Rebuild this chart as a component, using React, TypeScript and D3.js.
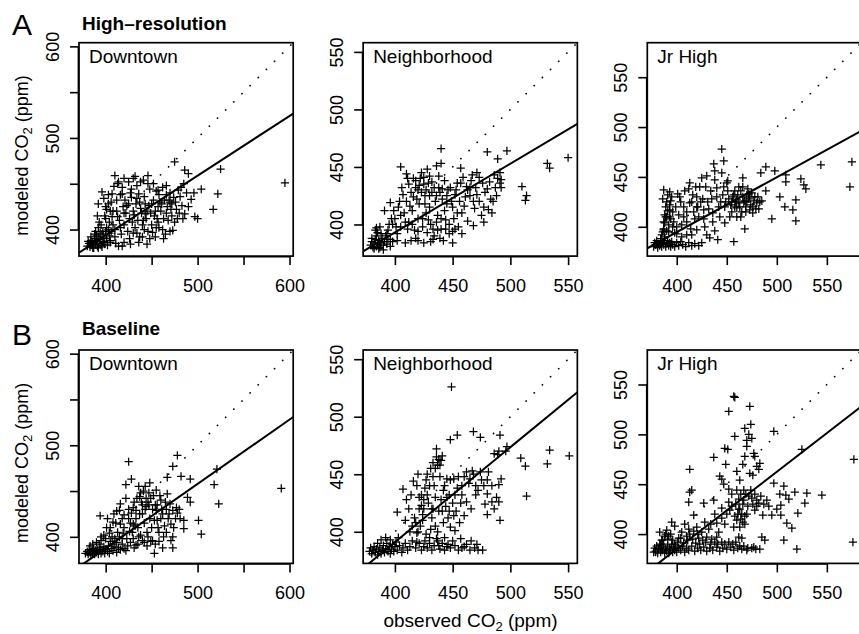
import { useEffect, useRef } from "react";
import { axisBottom, axisLeft, scaleLinear, select, line } from "d3";

const FONT = "'Liberation Sans', Arial, Helvetica, sans-serif";

const sites = ["Downtown", "Neighborhood", "Jr High"];
const rowTitles = ["High\u2013resolution", "Baseline"];
const rowLetters = ["A", "B"];
const siteDomains = [[371, 604], [372.5, 558], [370.6, 584.6]];
const siteTicks = [[400, 450, 500, 550, 600], [400, 450, 500, 550], [400, 450, 500, 550]];
const siteLabels = [[400, 500, 600], [400, 450, 500, 550], [400, 450, 500, 550]];

// [intercept, slope] of the fitted lines
const hrFits = [[132.8, 0.652], [153.8, 0.598], [174.2, 0.551]];
const baseFits = [[106.8, 0.702], [61, 0.825], [75, 0.775]];

// [observed, modeled] ppm
const hrDowntown = [
  [380,382],[382,385],[383,381],[384,388],[385,383],[386,386],[387,380],[388,390],[389,384],[390,387],
  [391,382],[392,392],[393,385],[394,389],[395,383],[396,395],[397,387],[398,391],[399,384],[400,398],
  [381,387],[384,392],[386,380],[388,395],[390,393],[392,380],[394,396],[396,381],[398,386],[401,390],
  [402,383],[404,393],[405,386],[403,400],[406,398],
  [410,459],[414,452],[425,452],[430,456],[441,454],[446,459],[452,450],[466,448],[475,474],[486,465],
  [490,461],[525,466],[504,444],[522,439],[517,422],[493,433],[486,417],[497,414],[500,412],[473,399],
  [475,408],[479,443],[396,441],[407,439],[418,439],[436,439],[457,443],[392,428],[403,428],[425,428],
  [443,428],[461,428],[472,428],[391,415],[407,414],[443,417],[457,408],[454,392],[427,384],[414,382],
  [595,451],
  [398,434],[401,422],[404,408],[408,420],[410,400],[412,432],[415,410],[417,395],[419,425],[420,405],
  [422,418],[424,398],[426,412],[428,435],[430,420],[432,402],[433,428],[435,410],[437,392],[438,423],
  [440,405],[442,436],[444,412],[446,398],[447,426],[449,418],[450,405],[452,432],[454,420],[456,412],
  [458,438],[460,420],[462,400],[464,432],[466,418],[468,410],[470,440],[471,422],[476,430],[480,418],
  [483,426],[470,398],[465,395],[448,390],[436,386],[430,396],[405,388],[410,392],[395,405],[400,412],
  [406,430],[418,446],[434,448],[448,444],[462,446],[488,440],[478,412],[455,402],[445,384],[420,386],
  [412,420],
  [409,447],[420,456],[432,458],[438,452],[416,438],[421,432],[427,440],[434,434],[439,418],[441,410],
  [445,420],[450,428],[453,415],[457,425],[459,430],[463,412],[467,425],[469,432],[472,415],[474,435],
  [477,422],[481,436],[484,412],[490,425],[405,420],[408,405],[413,414],[416,402],[420,418],[423,426],
  [429,408],[431,416],[434,396],[437,430],[442,400],[451,397],[458,402],[463,390],[401,402],[397,398],
  [399,415],[393,408],[404,396],[411,385],[418,382],[426,390],[440,392],[389,398],[392,402],[400,425],
  [403,438],[413,450],[428,444],[446,450],[455,442],[466,438],[470,430],[482,446],[496,440],[485,450],
];

const hrNeighborhood = [
  [379,382],[380,385],[381,380],[382,384],[383,387],[384,381],[385,383],[386,386],[387,380],[388,384],
  [389,388],[390,382],[391,385],[392,390],[393,383],[380,388],[382,379],[384,390],[386,379],[388,392],
  [390,378],[385,393],[394,387],[396,381],[398,385],[383,395],[387,398],
  [440,466],[440,453],[436,451],[405,450],[457,449],[480,463],[489,457],[497,464],[550,458],[532,453],
  [534,449],[510,433],[514,425],[513,421],[492,439],[491,436],[491,445],[480,431],[483,422],[481,413],
  [477,402],[468,399],[471,426],[463,430],[454,436],[467,443],[471,445],[450,394],[450,384],[433,387],
  [428,393],[409,384],[402,386],[396,387],[425,435],[423,445],[412,435],[396,419],[391,412],[407,426],
  [419,422],[439,428],[445,418],[460,416],[454,410],[436,402],[384,397],
  [400,405],[403,415],[405,398],[408,410],[410,420],[412,402],[414,428],[415,412],[417,395],[418,432],
  [420,405],[421,418],[422,440],[424,398],[426,425],[427,410],[429,436],[430,415],[431,400],[432,428],
  [434,390],[435,420],[437,408],[438,432],[440,396],[441,422],[443,412],[444,404],[446,430],[447,392],
  [449,420],[451,405],[452,426],[455,398],[456,420],[458,410],[461,424],[463,403],[465,432],[469,414],
  [473,420],[475,408],[478,428],[485,420],[487,432],[458,392],[442,386],[425,384],[418,388],[414,386],
  [398,400],[394,395],[402,392],[410,444],[416,440],[430,442],[428,448],[420,430],[426,418],
  [404,420],[406,432],[411,440],[413,416],[416,424],[418,438],[421,434],[423,428],[425,441],[427,430],
  [430,425],[432,437],[434,432],[436,425],[438,442],[441,431],[443,438],[445,425],[448,432],[450,415],
  [453,430],[457,436],[459,441],[462,433],[466,438],[470,432],[473,441],[476,436],[482,437],[486,443],
  [489,440],[409,402],[411,396],[415,400],[420,394],[424,405],[429,404],[433,396],[437,395],[440,405],
  [444,396],[447,400],[452,396],[439,388],[431,385],[420,386],[395,400],[397,405],[399,412],[401,398],
  [393,392],[405,408],[465,425],[468,420],[477,415],[488,425],[492,432],[484,410],
];

const hrJrHigh = [
  [377,380],[378,384],[379,382],[380,386],[381,379],[382,383],[383,381],[384,385],[385,380],[386,384],
  [387,382],[388,386],[389,380],[390,383],[391,386],[392,381],[393,384],[394,380],[395,385],[396,382],
  [398,380],[400,384],[402,381],[404,385],[406,382],[409,380],[412,384],[415,381],[418,383],[422,381],
  [425,384],
  [385,392],[387,398],[388,404],[389,410],[390,396],[391,416],[392,402],[393,422],[386,428],[388,390],
  [394,408],[396,400],[395,430],[398,394],
  [445,478],[447,466],[437,463],[438,456],[445,454],[451,446],[466,449],[484,454],[489,460],[498,456],
  [509,452],[509,445],[524,448],[527,442],[529,438],[544,462],[575,465],[573,440],[519,406],[516,417],
  [519,427],[508,420],[503,430],[495,408],[489,436],[468,398],[457,385],[441,387],[433,389],[427,408],
  [387,437],[393,435],[403,430],[413,444],[425,449],[430,451],[440,439],[440,430],[450,444],[460,427],
  [466,430],[475,434],[480,424],[473,417],[460,419],[453,410],[443,410],[436,414],[427,417],[413,424],
  [407,420],[393,417],[390,410],[387,397],[400,393],[420,397],
  [402,412],[405,402],[408,436],[410,415],[414,398],[416,432],[418,408],[421,420],[423,440],[426,428],
  [428,400],[431,425],[434,436],[436,405],[444,425],[446,432],[448,420],[452,428],[455,425],[457,432],
  [458,420],[462,424],[464,436],[467,425],[469,420],[470,432],[472,428],[476,420],[478,430],[482,418],
  [485,426],[465,415],[455,415],[471,438],[462,440],[420,430],[410,392],
  [384,388],[386,395],[387,405],[388,412],[389,420],[390,425],[391,432],[392,395],[393,410],[394,426],
  [396,415],[397,405],[399,420],[400,400],[401,433],[404,425],[407,410],[410,405],[412,438],[415,425],
  [417,415],[419,440],[422,410],[424,425],[429,440],[432,418],[435,428],[438,447],[442,420],[447,440],
  [449,425],[451,436],[454,422],[456,430],[459,425],[461,432],[463,420],[466,440],[468,426],[470,425],
  [473,430],[474,422],[477,426],[479,418],[481,430],[483,425],[460,410],[464,410],[469,415],[476,414],
  [448,404],[438,396],[415,392],[405,390],[430,392],[420,420],[472,433],[458,436],
];

const baseDowntown = [
  [378,382],[380,384],[381,381],[382,386],[383,383],[384,380],[385,385],[386,382],[387,387],[388,381],
  [389,384],[390,383],[391,386],[392,381],[393,385],[394,388],[395,382],[396,386],[397,384],[398,389],
  [399,382],[400,386],[402,384],[403,390],[404,382],[406,387],[408,385],[410,389],[412,383],[414,388],
  [416,386],[418,392],[420,387],[383,390],[386,392],[390,394],[395,396],[400,398],
  [591,453],[521,474],[518,457],[523,436],[501,418],[504,403],[492,438],[489,443],[492,463],[482,466],
  [467,465],[478,489],[473,477],[425,482],[428,463],[422,457],[448,459],[444,442],[437,444],[422,442],
  [455,451],[394,423],[415,429],[433,429],[444,433],[455,429],[473,429],[478,426],[485,418],[485,409],
  [473,400],[471,396],[462,388],[473,388],[453,382],[451,396],[440,396],[433,391],[422,385],
  [402,420],[405,410],[407,400],[409,425],[411,415],[413,405],[416,436],[418,420],[420,410],[423,398],
  [425,430],[427,415],[429,405],[431,438],[433,420],[435,410],[436,400],[438,448],[440,425],[442,415],
  [443,455],[445,405],[446,438],[448,420],[450,410],[452,445],[454,435],[456,418],[458,405],[460,440],
  [462,425],[464,412],[466,430],[468,420],[470,436],[474,410],[476,420],[480,430],[458,395],[445,390],
  [430,398],[418,398],[410,398],[436,455],[447,448],
  [405,395],[408,392],[412,394],[415,400],[419,404],[424,390],[427,394],[431,388],[435,392],[438,402],
  [442,394],[446,400],[449,395],[454,392],[457,410],[460,420],[463,400],[466,405],[469,425],[471,414],
  [477,432],[481,420],[425,420],[428,426],[430,432],[432,412],[434,442],[437,425],[439,438],[441,450],
  [443,430],[447,435],[449,442],[451,430],[453,418],[456,435],[459,445],[461,430],[465,438],[467,447],
  [420,424],[416,414],[412,428],[408,416],[404,404],[401,410],[398,402],[395,400],[393,392],[426,406],
  [430,414],[440,435],
];

const baseNeighborhood = [
  [378,383],[379,386],[380,381],[381,384],[382,387],[383,382],[384,385],[385,380],[386,383],[387,386],
  [388,381],[389,384],[390,388],[391,382],[392,385],[393,390],[394,383],[395,387],[396,381],[397,385],
  [398,389],[399,383],[400,387],[401,391],[402,384],[404,388],[406,382],[407,386],[409,390],[411,384],
  [413,387],[385,390],[388,393],[392,395],[396,393],[403,395],
  [449,526],[448,480],[454,484],[468,487],[474,482],[491,484],[497,474],[486,468],[489,467],[509,464],
  [513,457],[532,459],[534,471],[551,466],[514,431],[492,446],[490,441],[490,426],[486,420],[491,410],
  [480,415],[480,433],[481,452],[467,453],[470,440],[460,448],[445,446],[451,446],[438,463],[441,466],
  [436,472],[428,450],[420,450],[416,444],[407,437],[410,428],[402,417],[409,410],[423,423],[425,428],
  [433,420],[442,408],[451,414],[457,425],[460,414],[452,401],[457,394],[431,402],[419,399],[415,405],
  [436,394],[445,387],[460,387],[471,389],[476,384],[425,387],[419,391],
  [412,420],[414,432],[417,412],[419,440],[421,430],[422,405],[424,415],[426,438],[427,398],[429,425],
  [431,455],[432,412],[434,440],[435,430],[437,400],[438,418],[439,458],[440,428],[442,436],[443,395],
  [444,422],[446,412],[447,432],[448,404],[450,425],[453,418],[454,438],[456,408],[458,432],[462,426],
  [464,442],[466,420],[472,436],[475,445],[478,424],[484,440],[438,388],[430,390],[450,392],[466,392],
  [433,460],[436,465],
  [415,392],[418,386],[421,390],[423,384],[426,392],[428,386],[430,395],[432,384],[434,388],[437,392],
  [439,385],[441,390],[443,384],[446,389],[448,386],[452,388],[455,384],[458,386],[462,389],[465,384],
  [469,386],[472,384],[421,420],[423,432],[425,420],[427,445],[428,432],[430,440],[432,420],[433,448],
  [435,455],[437,458],[439,448],[440,462],[443,440],[445,430],[448,445],[452,432],[455,448],[458,440],
  [462,452],[465,446],[468,450],[470,432],[474,452],[477,440],[480,445],[484,426],[488,430],[496,470],
  [490,470],[418,408],[420,400],[424,410],[435,405],[441,418],[447,418],[413,400],
];

const baseJrHigh = [
  [377,382],[378,386],[379,383],[380,388],[381,381],[382,385],[383,389],[384,382],[385,386],[386,384],
  [387,390],[388,381],[389,385],[390,383],[391,388],[392,381],[393,386],[394,384],[395,390],[396,382],
  [397,386],[398,384],[399,388],[400,382],[402,386],[404,384],[406,388],[408,382],[410,386],[412,384],
  [415,388],[418,383],[421,386],[424,384],[427,387],[430,383],[433,386],[436,384],[440,387],[443,383],
  [446,386],[450,385],[454,387],[457,384],[461,386],[465,385],[385,394],[388,398],[391,395],[394,400],
  [457,538],[458,537],[452,523],[473,528],[468,506],[474,510],[470,494],[475,496],[458,498],[497,503],
  [448,486],[451,485],[437,477],[413,465],[415,444],[413,442],[412,432],[427,431],[437,434],[443,458],
  [447,450],[460,463],[463,454],[468,478],[477,481],[480,468],[483,471],[473,461],[476,459],[460,444],
  [467,444],[475,436],[480,434],[482,431],[490,434],[478,424],[486,419],[495,419],[504,419],[497,451],
  [507,448],[509,439],[518,442],[530,441],[528,431],[545,439],[504,429],[521,421],[510,411],[515,406],
  [507,394],[488,394],[485,397],[520,385],[576,392],[577,475],[525,485],[470,384],[477,387],[465,396],
  [462,397],[463,407],[457,407],[460,414],[453,424],[445,416],[440,411],[440,397],[430,397],[420,407],
  [417,419],[395,412],[390,404],[383,402],
  [398,408],[402,396],[405,402],[408,410],[410,398],[412,405],[422,396],[425,402],[428,412],[432,405],
  [435,395],[438,420],[442,402],[445,426],[448,410],[450,420],[452,432],[455,428],[458,418],[462,425],
  [464,415],[466,430],[468,410],[470,420],[472,438],[455,440],[452,445],
  [384,390],[386,394],[389,400],[392,398],[396,394],[398,390],[401,392],[404,396],[407,391],[411,394],
  [413,400],[416,395],[419,391],[423,390],[426,394],[429,392],[434,390],[438,392],[441,390],[445,392],
  [448,390],[452,392],[456,390],[459,392],[463,388],[467,388],[471,386],[475,386],[479,385],[483,385],
  [459,430],[461,420],[462,435],[463,425],[464,440],[465,420],[466,412],[467,434],[468,418],[469,440],
  [471,428],[474,444],[476,430],[478,440],[480,428],[484,438],[487,430],[492,428],[500,425],[503,440],
  [512,435],[445,455],[449,470],[466,470],[470,488],[472,500],[478,478],[482,465],[421,400],[417,403],
  [434,410],
];

const rows = [
  { data: [hrDowntown, hrNeighborhood, hrJrHigh], fits: hrFits },
  { data: [baseDowntown, baseNeighborhood, baseJrHigh], fits: baseFits },
];

const boxLeft = 79;
const boxTop = 42.7;
const colStep = 284.15;
const rowStep = 307.3;
const boxW = 214.2;
const boxH = 213.4;
const arm = 4.1;
const plus = `M${-arm},0H${arm}M0,${-arm}V${arm}`;

function AxisBottom({ scale, ticks, labels, transform }) {
  const ref = useRef(null);

  useEffect(() => {
    if (!ref.current) return;
    const g = select(ref.current);
    g.selectAll("*").remove();
    g.call(
      axisBottom(scale)
        .tickValues(ticks)
        .tickSize(9)
        .tickFormat((d) => (labels.includes(d) ? String(d) : ""))
    );
    g.select(".domain").remove();
    g.selectAll(".tick line").attr("stroke", "#000").attr("stroke-width", 1.6);
    g.selectAll(".tick text")
      .attr("y", 36)
      .attr("dy", 0)
      .attr("fill", "#000")
      .attr("font-size", 18)
      .attr("font-family", FONT);
    g.append("line")
      .attr("x1", scale(ticks[0]))
      .attr("x2", scale(ticks[ticks.length - 1]))
      .attr("y1", 0.6)
      .attr("y2", 0.6)
      .attr("stroke", "#000")
      .attr("stroke-width", 1.6);
  }, [scale, ticks, labels]);

  return <g ref={ref} transform={transform} />;
}

function AxisLeft({ scale, ticks, labels, transform }) {
  const ref = useRef(null);

  useEffect(() => {
    if (!ref.current) return;
    const g = select(ref.current);
    g.selectAll("*").remove();
    g.call(
      axisLeft(scale)
        .tickValues(ticks)
        .tickSize(9)
        .tickFormat((d) => (labels.includes(d) ? String(d) : ""))
    );
    g.select(".domain").remove();
    g.selectAll(".tick line").attr("stroke", "#000").attr("stroke-width", 1.6);
    // R style: labels parallel to the axis
    g.selectAll(".tick text")
      .attr("transform", "rotate(-90)")
      .attr("x", 0)
      .attr("y", -20)
      .attr("dy", 0)
      .attr("text-anchor", "middle")
      .attr("fill", "#000")
      .attr("font-size", 18)
      .attr("font-family", FONT);
    g.append("line")
      .attr("y1", scale(ticks[0]))
      .attr("y2", scale(ticks[ticks.length - 1]))
      .attr("x1", -0.6)
      .attr("x2", -0.6)
      .attr("stroke", "#000")
      .attr("stroke-width", 1.6);
  }, [scale, ticks, labels]);

  return <g ref={ref} transform={transform} />;
}

function Panel({ row, col, points, fit }) {
  const x0 = boxLeft + col * colStep;
  const y0 = boxTop + row * rowStep;
  const domain = siteDomains[col];
  const scaleX = scaleLinear().domain(domain).range([x0, x0 + boxW]);
  const scaleY = scaleLinear().domain(domain).range([y0 + boxH, y0]);
  const path = line()
    .x((d) => scaleX(d[0]))
    .y((d) => scaleY(d[1]));
  const [a, b] = fit;
  const fitLine = path([
    [domain[0], a + b * domain[0]],
    [domain[1], a + b * domain[1]],
  ]);
  const oneToOne = path([
    [domain[0], domain[0]],
    [domain[1], domain[1]],
  ]);
  const clipId = `clip-${row}-${col}`;

  return (
    <g>
      <clipPath id={clipId}>
        <rect x={x0} y={y0} width={boxW} height={boxH} />
      </clipPath>
      <g clipPath={`url(#${clipId})`}>
        <path
          d={oneToOne}
          fill="none"
          stroke="#000"
          strokeWidth={1.7}
          strokeLinecap="round"
          strokeDasharray="0.1 11.4"
        />
        <path d={fitLine} fill="none" stroke="#000" strokeWidth={2} />
      </g>
      {points.map(([o, m], i) => (
        <path
          key={i}
          d={plus}
          transform={`translate(${scaleX(o)},${scaleY(m)})`}
          fill="none"
          stroke="#000"
          strokeWidth={1.25}
        />
      ))}
      <rect
        x={x0}
        y={y0}
        width={boxW}
        height={boxH}
        fill="none"
        stroke="#000"
        strokeWidth={1.7}
      />
      <AxisBottom
        scale={scaleX}
        ticks={siteTicks[col]}
        labels={siteLabels[col]}
        transform={`translate(0, ${y0 + boxH})`}
      />
      <AxisLeft
        scale={scaleY}
        ticks={siteTicks[col]}
        labels={siteLabels[col]}
        transform={`translate(${x0}, 0)`}
      />
      <text x={x0 + 10} y={y0 + 20} fontSize={19}>
        {sites[col]}
      </text>
    </g>
  );
}

function CO2Label({ text, ...rest }) {
  return (
    <text {...rest}>
      <tspan>{text} CO</tspan>
      <tspan fontSize={13} dy={4}>2</tspan>
      <tspan dy={-4}> (ppm)</tspan>
    </text>
  );
}

export default function App() {
  return (
    <svg
      width={859}
      height={634}
      style={{ position: "absolute", left: 0, top: 0 }}
      fontFamily={FONT}
      fill="#000"
    >
      <rect width={859} height={634} fill="#fff" />
      {rows.map((r, ri) => (
        <g key={ri}>
          <text x={12} y={35 + ri * 310} fontSize={30}>
            {rowLetters[ri]}
          </text>
          <text x={82} y={29.5 + ri * 305} fontSize={19} fontWeight="bold">
            {rowTitles[ri]}
          </text>
          <CO2Label
            text="modeled"
            fontSize={18}
            textAnchor="middle"
            transform={`translate(28, ${155.5 + ri * rowStep}) rotate(-90)`}
          />
          {r.data.map((pts, ci) => (
            <Panel key={ci} row={ri} col={ci} points={pts} fit={r.fits[ci]} />
          ))}
        </g>
      ))}
      <CO2Label
        text="observed"
        fontSize={19}
        textAnchor="middle"
        x={470.5}
        y={627}
      />
    </svg>
  );
}
